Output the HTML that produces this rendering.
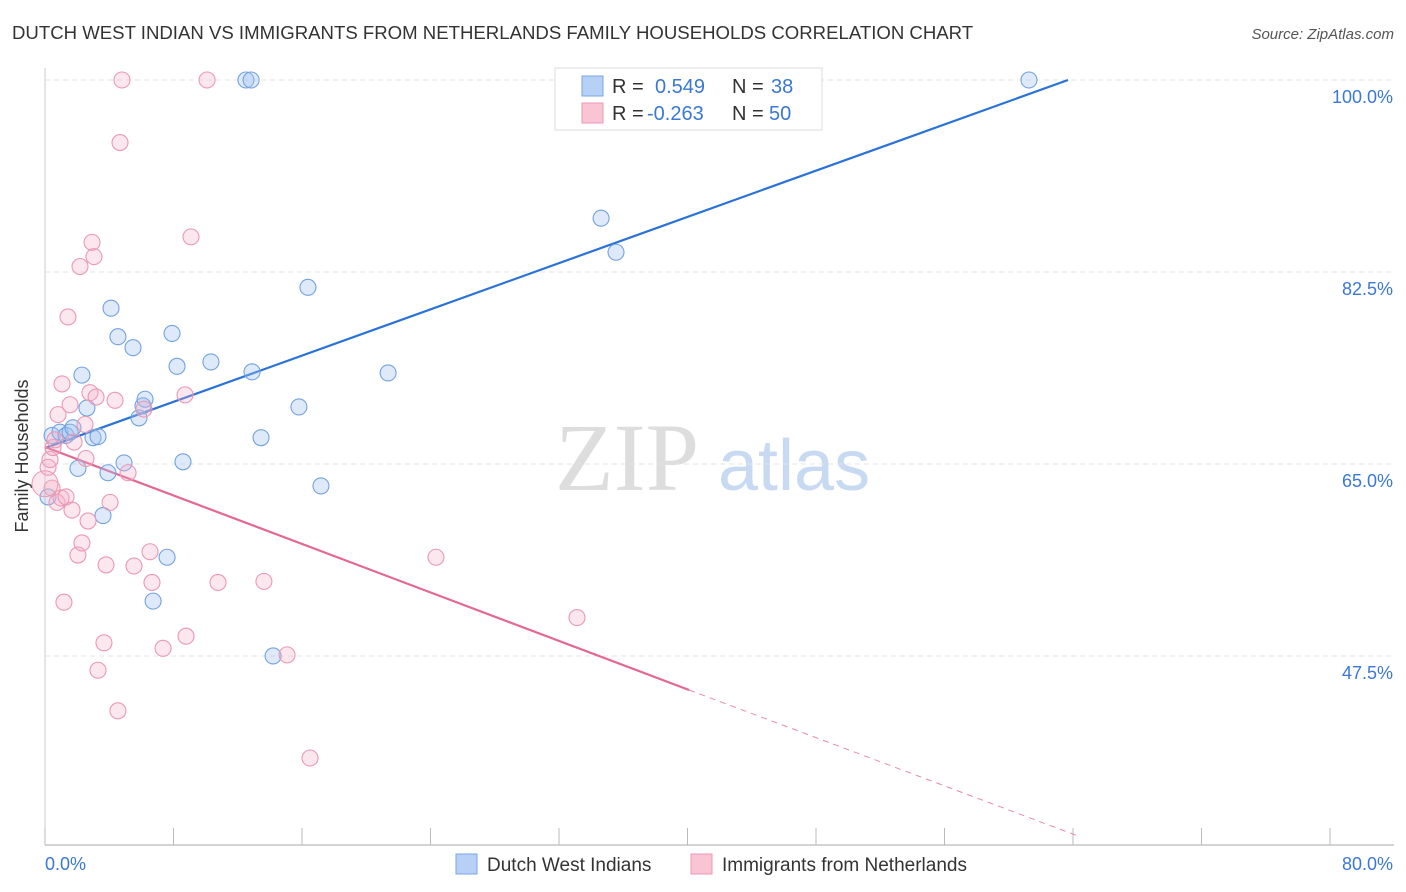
<!DOCTYPE html>
<html><head><meta charset="utf-8"><style>
body{margin:0;background:#fff;font-family:"Liberation Sans",sans-serif;}
svg{display:block}
</style></head><body>
<svg id="c" width="1406" height="892">
<text x="12" y="39" font-size="18.6" fill="#333">DUTCH WEST INDIAN VS IMMIGRANTS FROM NETHERLANDS FAMILY HOUSEHOLDS CORRELATION CHART</text>
<text x="1394" y="39" font-size="15" fill="#555" font-style="italic" text-anchor="end">Source: ZipAtlas.com</text>
<text x="28" y="456" font-size="18" fill="#333" transform="rotate(-90 28 456)" text-anchor="middle">Family Households</text>
<g>
<text x="555" y="490" font-family="Liberation Serif,serif" font-size="96" fill="#ddd">ZIP</text>
<text x="718" y="490" font-size="72" fill="#c8daf2">atlas</text>
</g>
<g id="grid"></g><g id="axes"></g><g id="lines"></g><g id="pts"></g>
<g>
<rect x="555" y="68" width="267" height="62" fill="#fff" stroke="#ddd"/>
<rect x="582" y="76" width="21" height="20" fill="#b6d1f5" stroke="#7aa6e4"/>
<rect x="582" y="103" width="21" height="20" fill="#f9c4d4" stroke="#ec9ab4"/>
<text x="612" y="93" font-size="20" fill="#333">R = </text><text x="655" y="93" font-size="20" fill="#3a78d4">0.549</text>
<text x="732" y="93" font-size="20" fill="#333">N = </text><text x="771" y="93" font-size="20" fill="#3a78d4">38</text>
<text x="612" y="120" font-size="20" fill="#333">R = </text><text x="647" y="120" font-size="20" fill="#3a78d4">-0.263</text>
<text x="732" y="120" font-size="20" fill="#333">N = </text><text x="769" y="120" font-size="20" fill="#3a78d4">50</text>
</g>
<g>
<rect x="456" y="854" width="21" height="20" fill="#b6d1f5" stroke="#7aa6e4"/>
<text x="487" y="871" font-size="19" fill="#333">Dutch West Indians</text>
<rect x="691" y="854" width="21" height="20" fill="#f9c4d4" stroke="#ec9ab4"/>
<text x="722" y="871" font-size="19" fill="#333">Immigrants from Netherlands</text>
</g>
</svg>
<script>
const xTicks=[0,8,16,24,32,40,48,56,64,72,80];
const yTicks=[47.5,65,82.5,100];
const yTickLabels=["47.5%","65.0%","82.5%","100.0%"];
const blueX=[0.19,0.44,0.93,1.31,1.56,1.74,2.05,2.30,2.61,2.99,3.30,3.61,3.92,4.11,4.54,4.92,5.48,5.85,6.10,6.23,6.73,7.60,7.91,8.22,8.59,10.33,12.51,12.83,12.89,13.45,14.20,15.81,16.37,17.18,21.36,34.62,35.55,61.26];
const blueY=[62.0,67.6,67.9,67.6,67.9,68.3,64.6,73.1,70.1,67.4,67.5,60.3,64.2,79.2,76.6,65.1,75.6,69.2,70.3,70.9,52.5,56.5,76.9,73.9,65.2,74.3,100,100,73.4,67.4,47.5,70.2,81.1,63.0,73.3,87.4,84.3,100];
const pinkX=[0.19,0.31,0.44,0.50,0.62,0.75,0.81,1.00,1.06,1.18,1.31,1.43,1.56,1.68,1.81,2.05,2.18,2.30,2.49,2.55,2.68,2.80,2.93,3.05,3.18,3.30,3.67,3.80,4.05,4.36,4.54,4.67,4.79,5.17,5.54,6.16,6.54,6.66,7.35,8.72,8.78,9.09,10.09,10.77,13.63,15.07,16.50,24.34,33.12];
const pinkY=[64.7,65.4,62.8,66.5,67.2,61.5,69.5,61.9,72.3,52.4,62.0,78.4,70.4,60.8,67.0,56.7,83.0,57.8,68.6,65.5,59.8,71.5,85.2,83.9,71.1,46.2,48.7,55.8,61.5,70.8,42.5,94.3,100,64.2,55.7,70.0,57.0,54.2,48.2,71.3,49.3,85.7,100,54.2,54.3,47.6,38.2,56.5,51.0];
const blueLine=[0,66.45,63.69,100];
const pinkLine=[0,66.55,40.1,44.4,64.3,31.1];
const NS="http://www.w3.org/2000/svg";
const X=v=>45+v*(1285/80), Y=v=>80+(100-v)*10.971;
function mk(tag,attrs,parent){const e=document.createElementNS(NS,tag);for(const k in attrs)e.setAttribute(k,attrs[k]);document.getElementById(parent).appendChild(e);return e;}
yTicks.forEach((t,i)=>{
 const g=mk('line',{x1:45,x2:1394,y1:Y(t),y2:Y(t),stroke:'#e4e4e4','stroke-dasharray':'5,4'},'grid');
 
 
 const l=mk('text',{x:1393,y:Y(t)+23,'font-size':18,fill:'#3a78d4','text-anchor':'end'},'grid');l.textContent=yTickLabels[i];
 
 
});
const ax=mk('line',{x1:45,x2:1394,y1:845,y2:845,stroke:'#aaa'},'axes');


const ay=mk('line',{x1:45,x2:45,y1:68,y2:845,stroke:'#ccc'},'axes');


xTicks.forEach(t=>{const e=mk('line',{x1:X(t),x2:X(t),y1:828,y2:845,stroke:'#bbb'},'axes');
 
 });
const x0=mk('text',{x:45,y:870,'font-size':18,fill:'#3a78d4'},'axes');x0.textContent='0.0%';


const x1=mk('text',{x:1393,y:870,'font-size':18,fill:'#3a78d4','text-anchor':'end'},'axes');x1.textContent='80.0%';


blueX.forEach((v,i)=>{const c=mk('circle',{cx:X(v),cy:Y(blueY[i]),r:8,fill:'rgba(160,196,240,0.35)',stroke:'#72a2e2','stroke-width':1.1},'pts');
 
 });
pinkX.forEach((v,i)=>{const c=mk('circle',{cx:X(v),cy:Y(pinkY[i]),r:8,fill:'rgba(245,175,198,0.3)',stroke:'#ec98b2','stroke-width':1.1},'pts');
 
 });
const big=mk('circle',{cx:X(0),cy:Y(63.2),r:13,fill:'rgba(245,175,198,0.3)',stroke:'#ec98b2'},'pts');


const bl=mk('line',{x1:X(blueLine[0]),y1:Y(blueLine[1]),x2:X(blueLine[2]),y2:Y(blueLine[3]),stroke:'#2a72d8','stroke-width':2.2},'lines');


const pl=mk('line',{x1:X(pinkLine[0]),y1:Y(pinkLine[1]),x2:X(pinkLine[2]),y2:Y(pinkLine[3]),stroke:'#e36892','stroke-width':2.2},'lines');


const pd=mk('line',{x1:X(pinkLine[2]),y1:Y(pinkLine[3]),x2:X(pinkLine[4]),y2:Y(pinkLine[5]),stroke:'#e88aaa','stroke-width':1,'stroke-dasharray':'6,5'},'lines');


</script>
</body></html>
